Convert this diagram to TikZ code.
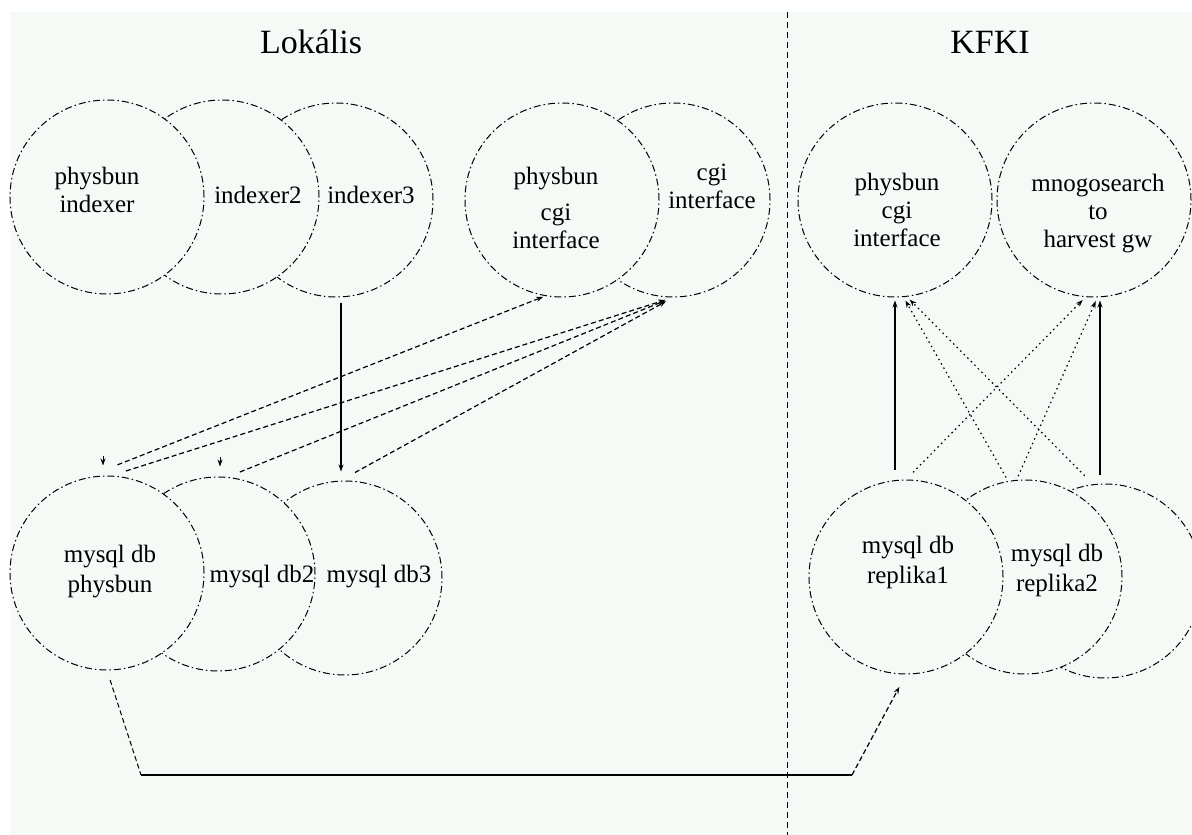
\documentclass[tikz,border=0pt]{standalone}
\usepackage{fontspec}
\setmainfont{Liberation Serif}
\usetikzlibrary{calc,arrows.meta}

\definecolor{paper}{HTML}{F5FAF7}

\tikzset{
  ring/.style={circle, draw, fill=paper, inner sep=0pt, minimum size=194pt,
    line width=1pt, dash pattern=on 7pt off 3pt on 1.5pt off 3pt},
  tag/.style={align=center, inner sep=0pt, font=\fontsize{25}{28}\selectfont},
  head/.style={inner sep=0pt, font=\fontsize{34}{38}\selectfont},
  tip/.style={-{Stealth[length=7pt,width=5pt]}},
  solidfeed/.style={tip, line width=1.5pt},
  dashfeed/.style={tip, line width=1.2pt, dash pattern=on 5pt off 3pt},
  dotfeed/.style={tip, line width=1.2pt, dash pattern=on 1.5pt off 3.5pt},
}

\begin{document}
\begin{tikzpicture}[x=1pt,y=-1pt]
\useasboundingbox (0,0) rectangle (1192,835);
\fill[paper] (10,12) rectangle (1192,835);

% divider
\draw[line width=1pt, dash pattern=on 6pt off 4pt] (787,12) -- (787,835);

\node[head] (lokalis) at (311,42) {Lokális};
\node[head] (kfki) at (990,42) {KFKI};

% indexers, back to front
\node[ring] (idx3) at (336,200) {};
\node[ring] (idx2) at (222,197) {};
\node[ring] (idx1) at (107,197) {};

% cgi interfaces
\node[ring] (cgi2) at (673,200) {};
\node[ring] (pcgi) at (562,200) {};
\node[ring] (kcgi) at (895,200) {};
\node[ring] (mnogo) at (1094,200) {};

% databases
\node[ring] (db3) at (345,578) {};
\node[ring] (db2) at (218,574) {};
\node[ring] (db1) at (107,573) {};

% replicas
\node[ring] (rep3) at (1105,581) {};
\node[ring] (rep2) at (1025,577) {};
\node[ring] (rep1) at (906,577) {};

% texts
\node[tag] (idx1txt) at (97,190) {physbun\\indexer};
\node[tag] (idx2txt) at (258,195) {indexer2};
\node[tag] (idx3txt) at (371,195) {indexer3};
\node[tag] (pcgitxt) at (556,208) {physbun\\[8pt]cgi\\interface};
\node[tag] (cgi2txt) at (712,186) {cgi\\interface};
\node[tag] (kcgitxt) at (897,210) {physbun\\cgi\\interface};
\node[tag] (mnogotxt) at (1098,214) {mnogosearch\\to\\harvest gw};
\node[tag, font=\fontsize{25}{30}\selectfont] (db1txt) at (110,572) {mysql db\\physbun};
\node[tag] (db2txt) at (262,577) {mysql db2};
\node[tag] (db3txt) at (379,577) {mysql db3};
\node[tag, font=\fontsize{25}{30}\selectfont] (rep1txt) at (908,562) {mysql db\\replika1};
\node[tag, font=\fontsize{25}{30}\selectfont] (rep2txt) at (1057,570) {mysql db\\replika2};

% local links
\coordinate (v3) at (341,0);
\draw[solidfeed, shorten <=5pt, shorten >=9pt] (idx3.south -| v3) -- (db3.north -| v3);
\draw[tip, line width=0.9pt] ($(db1.north)+(-4,-20)$) -- ($(db1.north)+(-4,-10)$);
\draw[tip, line width=0.9pt] ($(db2.north)+(2,-20)$) -- ($(db2.north)+(2,-10)$);
\draw[dashfeed, shorten >=2pt] ($(db1.85)+(2,-11)$) -- (pcgi.260);
\draw[dashfeed, shorten >=8pt] ($(db1.80)+(2,-6)$) -- (cgi2.south);
\draw[dashfeed, shorten >=8pt] ($(db2.77)+(0,-7)$) -- (cgi2.south);
\draw[dashfeed, shorten >=8pt] ($(db3.north)+(10,-8)$) -- (cgi2.south);

% KFKI links
\coordinate (v5) at (1100,0);
\draw[solidfeed, shorten <=10pt, shorten >=3pt] (rep1.north -| kcgi.south) -- (kcgi.south);
\draw[solidfeed, shorten <=9pt, shorten >=3pt] (rep3.north -| v5) -- (mnogo.south -| v5);
\draw[dotfeed, shorten <=10pt, shorten >=4pt] (rep1.north) -- (mnogo.265);
\draw[dotfeed, shorten <=4pt, shorten >=4pt] (rep2.100) -- (kcgi.275);
\draw[dotfeed, shorten <=4pt, shorten >=4pt] (rep2.95) -- (mnogo.272);
\draw[dotfeed, shorten <=12pt, shorten >=4pt] (rep3.97) -- (kcgi.277);

% replication
\coordinate (b1) at (141,775);
\coordinate (b2) at (852,775);
\draw[line width=1pt, dash pattern=on 5pt off 3pt, shorten <=10pt] (db1.south) -- (b1);
\draw[line width=1.7pt] (b1) -- (b2);
\draw[dashfeed, shorten >=14pt] (b2) -- (rep1.south);
\end{tikzpicture}
\end{document}
